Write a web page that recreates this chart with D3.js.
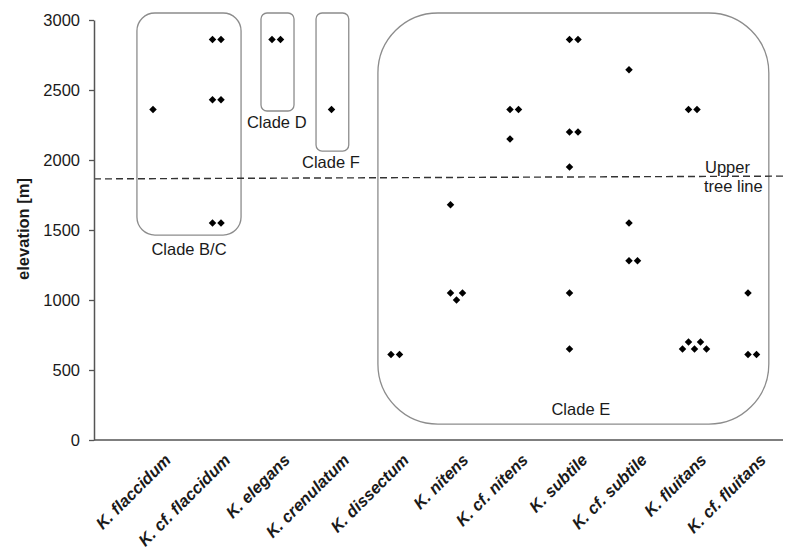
<!DOCTYPE html>
<html><head><meta charset="utf-8">
<script src="https://cdn.jsdelivr.net/npm/d3@7"></script>
<style>
body{margin:0;background:#fff;}
text{font-family:"Liberation Sans",Arial,sans-serif;fill:#1a1a1a;}
</style></head>
<body>
<svg id="chart" width="800" height="556"></svg>
<script>
// ---- data ----
const categories = ["K. flaccidum","K. cf. flaccidum","K. elegans","K. crenulatum","K. dissectum","K. nitens","K. cf. nitens","K. subtile","K. cf. subtile","K. fluitans","K. cf. fluitans"];
const pointCategory = [
  "K. flaccidum",
  "K. cf. flaccidum","K. cf. flaccidum","K. cf. flaccidum","K. cf. flaccidum","K. cf. flaccidum","K. cf. flaccidum",
  "K. elegans","K. elegans",
  "K. crenulatum",
  "K. dissectum","K. dissectum",
  "K. nitens","K. nitens","K. nitens","K. nitens",
  "K. cf. nitens","K. cf. nitens","K. cf. nitens",
  "K. subtile","K. subtile","K. subtile","K. subtile","K. subtile","K. subtile","K. subtile",
  "K. cf. subtile","K. cf. subtile","K. cf. subtile","K. cf. subtile",
  "K. fluitans","K. fluitans","K. fluitans","K. fluitans","K. fluitans","K. fluitans","K. fluitans",
  "K. cf. fluitans","K. cf. fluitans","K. cf. fluitans"
];
const pointElevation = [
  2360,
  2860,2860,2430,2430,1550,1550,
  2860,2860,
  2360,
  610,610,
  1680,1050,1000,1050,
  2360,2360,2150,
  2860,2860,2200,2200,1950,1050,650,
  2645,1550,1280,1280,
  2360,2360,650,700,650,700,650,
  1050,610,610
];
const yTicks = [0,500,1000,1500,2000,2500,3000];
const treeLine = [1865,1885];           // elevation at left / right end of dashed line
const treeLineLabel = ["Upper","tree line"];
const cladeNames = ["Clade B/C","Clade D","Clade F","Clade E"];
const cladeFrom  = [-0.27, 1.815, 2.74, 3.78];   // category-index units
const cladeTo    = [1.48, 2.37, 3.29, 10.35];
const cladeTop   = [3050, 3050, 3050, 3050];
const cladeBottom= [1464, 2350, 2064, 114];
const cladeLabelAt  = [0.605, 2.08, 2.99, 7.19];
const cladeLabelElev= [1321, 2229, 1943, 179];
const cladeRadius = [18, 6, 6, 60];
const yTitle = "elevation [m]";

// ---- scales ----
const svg = d3.select("#chart");
const axisLeftX = 94, axisRightX = 783;
const y = d3.scaleLinear().domain([0,3000]).range([440,20]);
const x = d3.scalePoint().domain(categories).range([153,748]);
const xi = d3.scaleLinear().domain([0, categories.length-1]).range([153,748]);

// clade boxes
cladeNames.forEach((n,i)=>{
  const x0 = xi(cladeFrom[i]), x1 = xi(cladeTo[i]);
  const y0 = y(cladeTop[i]), y1 = y(cladeBottom[i]);
  svg.append("rect").attr("x",x0).attr("y",y0).attr("width",x1-x0).attr("height",y1-y0)
    .attr("rx",cladeRadius[i]).attr("ry",cladeRadius[i])
    .attr("fill","none").attr("stroke","#8c8c8c").attr("stroke-width",1.3);
  svg.append("text").attr("x",xi(cladeLabelAt[i])).attr("y",y(cladeLabelElev[i]))
    .attr("text-anchor","middle").style("font-size","16.5px").text(n);
});

// tree line
svg.append("line").attr("x1",axisLeftX).attr("x2",785)
  .attr("y1",y(treeLine[0])).attr("y2",y(treeLine[1]))
  .attr("stroke","#333").attr("stroke-width",1.4).attr("stroke-dasharray","7,4");
svg.append("text").attr("x",705).attr("y",173).style("font-size","16.5px").text(treeLineLabel[0]);
svg.append("text").attr("x",704).attr("y",192).style("font-size","16.5px").text(treeLineLabel[1]);

// axes
const yAxis = svg.append("g").attr("transform",`translate(${axisLeftX},0)`)
  .call(d3.axisLeft(y).tickValues(yTicks).tickFormat(d3.format("d")).tickSize(5).tickPadding(9).tickSizeOuter(0));
yAxis.select(".domain").attr("stroke","#555").attr("stroke-width",1.5);
yAxis.selectAll(".tick line").attr("stroke","#555").attr("stroke-width",1.3);
yAxis.selectAll(".tick text").style("font-size","16.5px").style("font-family","'Liberation Sans',Arial,sans-serif").attr("fill","#1a1a1a");

svg.append("line").attr("x1",axisLeftX).attr("x2",axisRightX).attr("y1",y(0)).attr("y2",y(0))
  .attr("stroke","#555").attr("stroke-width",1.5);

// x labels
svg.append("g").selectAll("text").data(categories).join("text")
  .attr("transform",d=>`translate(${x(d)+19},461) rotate(-45)`)
  .attr("text-anchor","end")
  .style("font-size","16.5px").style("font-weight","bold").style("font-style","italic")
  .text(d=>d);

// y title
svg.append("text").attr("transform","translate(29,229) rotate(-90)")
  .attr("text-anchor","middle").style("font-size","16.5px").style("font-weight","bold").text(yTitle);

// points with dodge for near-equal values
const pts = pointCategory.map((c,i)=>({c, v:pointElevation[i]}));
const placed = [];
categories.forEach(c=>{
  const list = pts.filter(p=>p.c===c);
  let k=0;
  while(k<list.length){
    const g=[list[k]]; let j=k+1;
    while(j<list.length && Math.abs(list[j].v-list[k].v)<=100){g.push(list[j]); j++;}
    const n=g.length, step = n===2?8.5:6, start = x(c) - Math.max(0,n-3)*3;
    g.forEach((p,m)=>placed.push({px:start+m*step, py:y(p.v)}));
    k=j;
  }
});
svg.append("g").selectAll("path").data(placed).join("path")
  .attr("transform",d=>`translate(${d.px},${d.py}) rotate(45)`)
  .attr("d",d3.symbol(d3.symbolSquare,28))
  .attr("fill","#000");
</script>
</body></html>
